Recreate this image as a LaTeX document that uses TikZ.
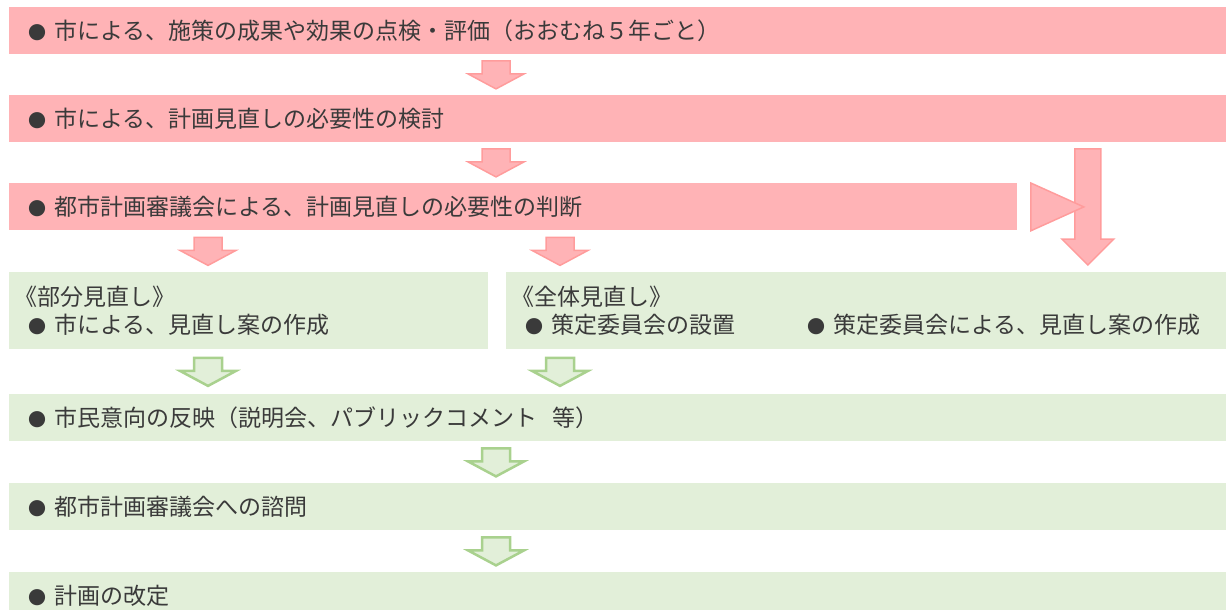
\documentclass[tikz,border=0pt]{standalone}
\usepackage{fontspec}
\newfontfamily\jp{Noto Sans CJK JP}
\usetikzlibrary{calc}
\definecolor{pinkfill}{HTML}{FFB3B6}
\definecolor{pinkline}{HTML}{FF9C9C}
\definecolor{greenfill}{HTML}{E2EFD9}
\definecolor{greenline}{HTML}{A9D18E}
\definecolor{txt}{HTML}{3A3A3A}
\newcommand{\mybul}{{\fontsize{9pt}{9pt}\selectfont ●}\hspace{4pt}}
\begin{document}
\begin{tikzpicture}[x=0.5pt,y=-0.5pt,
  box/.style={anchor=north west, inner xsep=9.5pt, inner ysep=0pt, align=left,
    font=\jp\fontsize{11.5pt}{14pt}\selectfont, text=txt},
  pinkbox/.style={box, fill=pinkfill, minimum height=23.5pt},
  greenbox/.style={box, fill=greenfill, minimum height=23.5pt},
  dnarrow/.pic={\path[pic actions] (-14,-14) -- (14,-14) -- (14,-1) -- (28,-1) -- (0,14) -- (-28,-1) -- (-14,-1) -- cycle;},
  pinkarrow/.style={fill=pinkfill, draw=pinkline, line width=0.75pt, line join=miter},
  greenarrow/.style={fill=greenfill, draw=greenline, line width=1.25pt, line join=miter}]
\useasboundingbox (0,0) rectangle (1226,610);
\node[pinkbox, text width=589.5pt] (b1) at (9,7) {\mybul 市による、施策の成果や効果の点検・評価（おおむね５年ごと）};
\node[pinkbox, text width=589.5pt] (b2) at (9,95) {\mybul 市による、計画見直しの必要性の検討};
\node[pinkbox, text width=485pt] (b3) at (9,183) {\mybul 都市計画審議会による、計画見直しの必要性の判断};
\node[greenbox, text width=220.5pt, minimum height=38.5pt] (b4l) at (9,272) {\hspace*{-7pt}《部分見直し》\\ \mybul 市による、見直し案の作成};
\node[greenbox, text width=341pt, minimum height=38.5pt] (b4r) at (506,272) {\hspace*{-7pt}《全体見直し》\\ \makebox[141pt][l]{\mybul 策定委員会の設置}\mybul 策定委員会による、見直し案の作成};
\node[greenbox, text width=589.5pt] (b5) at (9,394) {\mybul 市民意向の反映（説明会、パブリックコメント\ \ 等）};
\node[greenbox, text width=589.5pt] (b6) at (9,483) {\mybul 都市計画審議会への諮問};
\node[greenbox, text width=589.5pt] (b7) at (9,572) {\mybul 計画の改定};
% pink arrows
\pic[pinkarrow] at ($(b1.south west)!.5!(b2.north west)+(487,0)$) {dnarrow};
\pic[pinkarrow] at ($(b2.south west)!.5!(b3.north west)+(487,0)$) {dnarrow};
\pic[pinkarrow] at ($(b3.south west)!.5!(b4l.north west)+(199,0)$) {dnarrow};
\pic[pinkarrow] at ($(b3.south west)!.5!(b4l.north west)+(551,0)$) {dnarrow};
% big side arrow
\coordinate (vtop) at ($(b2.south east)+(-139,6)$);
\coordinate (vtip) at ($(b4r.north east)+(-139,-7)$);
\draw[pinkarrow] ($(vtop)+(-13,0)$) -- ($(vtop)+(13,0)$) -- ($(vtip)+(13,-26)$) -- ($(vtip)+(26,-26)$) -- (vtip) -- ($(vtip)+(-26,-26)$) -- ($(vtip)+(-13,-26)$) -- cycle;
\draw[pinkarrow] ($(b3.north east)+(13,0)$) -- ($(b3.east)+(66,0)$) -- ($(b3.south east)+(13,0)$) -- cycle;
% green arrows
\pic[greenarrow] at ($(b4l.south west)!.5!(b5.north west)+(199,0)$) {dnarrow};
\pic[greenarrow] at ($(b4l.south west)!.5!(b5.north west)+(551,0)$) {dnarrow};
\pic[greenarrow] at ($(b5.south west)!.5!(b6.north west)+(487,0)$) {dnarrow};
\pic[greenarrow] at ($(b6.south west)!.5!(b7.north west)+(487,0)$) {dnarrow};
\end{tikzpicture}
\end{document}
